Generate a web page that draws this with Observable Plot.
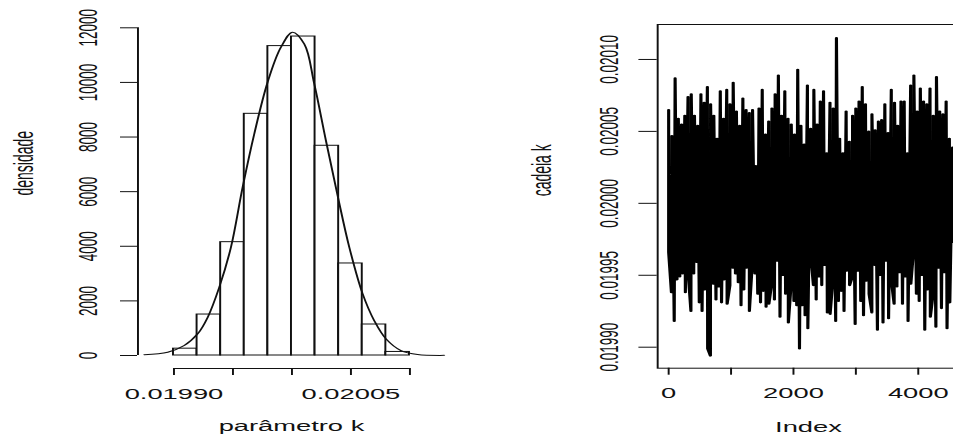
<!DOCTYPE html>
<html><head><meta charset="utf-8">
<script src="https://cdn.jsdelivr.net/npm/d3@7"></script>
<script src="https://cdn.jsdelivr.net/npm/@observablehq/plot@0.6"></script>
<style>
html,body{margin:0;padding:0;background:#fff;overflow:hidden;}
#wrap{position:relative;width:953px;height:440px;overflow:hidden;background:#fff;}
#left{position:absolute;left:0;top:0;width:477px;height:440px;}
#right{position:absolute;left:477px;top:0;width:476px;height:440px;overflow:hidden;}
</style></head><body>
<div id="wrap"><div id="left"></div><div id="right"></div></div>
<script>
// ---------- data: histogram of parameter k ----------
const histBreaks = [0.01990,0.01992,0.01994,0.01996,0.01998,0.02000,0.02002,0.02004,0.02006,0.02008,0.02010];
const histDensity = [250,1500,4150,8850,11330,11680,7680,3370,1135,130];
const curveK = [0.0198748,0.0198947,0.0199087,0.0199201,0.0199286,0.0199384,0.0199483,0.0199582,0.0199681,0.0199794,0.0199907,0.0200006,0.0200104,0.0200189,0.0200288,0.0200387,0.0200486,0.0200599,0.0200697,0.0200797,0.0200924,0.0201065,0.0201291];
const curveDens = [30,120,366,794,1400,2500,3965,6160,8120,10010,11290,11840,11410,9950,7870,5860,3965,2260,1280,610,183,37,5];
const histYTicks = [0,2000,4000,6000,8000,10000,12000];
const histXTicks = [0.01990,0.01995,0.02000,0.02005,0.02010];
const histXTickLabels = ["0.01990","","","0.02005",""];

// ---------- data: trace (chain) of k ----------
const traceHigh = [0.020065,0.020047,0.020087,0.020059,0.020055,0.020061,0.020074,0.020076,0.020061,0.020054,
0.020076,0.020070,0.020081,0.020069,0.020061,0.020045,0.020078,0.020059,0.020079,0.020069,
0.020084,0.020064,0.020054,0.020073,0.020065,0.020063,0.020065,0.020026,0.020066,0.020079,
0.020048,0.020057,0.020066,0.020076,0.020089,0.020061,0.020078,0.020059,0.020055,0.020048,
0.020093,0.020054,0.020041,0.020082,0.020052,0.020079,0.020055,0.020071,0.020078,0.020035,
0.020070,0.020066,0.020115,0.020045,0.020035,0.020064,0.020043,0.020061,0.020066,0.020071,
0.020081,0.020069,0.020050,0.020062,0.020051,0.020057,0.020058,0.020069,0.020049,0.020079,
0.020070,0.020054,0.020071,0.020071,0.020035,0.020082,0.020089,0.020064,0.020080,0.020071,
0.020069,0.020080,0.020061,0.020088,0.020064,0.020062,0.020071,0.020045,0.020039];
const traceLow = [0.019966,0.019938,0.019918,0.019947,0.019949,0.019951,0.019938,0.019952,0.019925,0.019951,
0.019959,0.019931,0.019925,0.019940,0.019899,0.019894,0.019944,0.019933,0.019942,0.019931,
0.019947,0.019930,0.019943,0.019955,0.019951,0.019945,0.019929,0.019940,0.019955,0.019925,
0.019957,0.019951,0.019937,0.019931,0.019939,0.019928,0.019930,0.019944,0.019933,0.019960,
0.019921,0.019950,0.019937,0.019917,0.019944,0.019932,0.019929,0.019899,0.019929,0.019922,
0.019913,0.019965,0.019943,0.019933,0.019949,0.019943,0.019957,0.019924,0.019923,0.019947,
0.019918,0.019932,0.019939,0.019925,0.019953,0.019943,0.019949,0.019916,0.019953,0.019932,
0.019922,0.019946,0.019937,0.019924,0.019957,0.019912,0.019950,0.019917,0.019960,0.019920,
0.019946,0.019930,0.019942,0.019952,0.019930,0.019949,0.019918,0.019944,0.019968,0.019937,
0.019932,0.019950,0.019912,0.019940,0.019921,0.019937,0.019914,0.019955,0.019927,0.019952,
0.019913,0.019931,0.019973];
const traceLength = 4550;
const traceXTicks = [0,1000,2000,3000,4000];
const traceXTickLabels = ["0","","2000","","4000"];
const traceYTicks = [0.01990,0.01995,0.02000,0.02005,0.02010];
const traceYTickLabels = ["0.01990","0.01995","0.02000","0.02005","0.02010"];

// ---------- layout ----------
const SX = 1.95;           // horizontal stretch of the original picture
const FONT = "'Liberation Sans', Arial, Helvetica, sans-serif";
const INK = "#111";

const bins = histBreaks.slice(0, -1).map((b, i) => ({x1: b, x2: histBreaks[i + 1], y: histDensity[i]}));
const curve = curveK.map((k, i) => ({k, d: curveDens[i]}));
const trace = [
  ...traceHigh.map((v, i) => ({i: i / (traceHigh.length - 1) * traceLength, v, o: 0})),
  ...traceLow.map((v, j) => ({i: j / (traceLow.length - 1) * traceLength, v, o: 1}))
].sort((a, b) => a.i - b.i || a.o - b.o);

function stretch(svg, w) {
  svg.setAttribute("preserveAspectRatio", "none");
  svg.setAttribute("width", w);
  svg.setAttribute("height", 440);
  svg.style.width = w + "px";
  svg.style.height = "440px";
  svg.style.maxWidth = "none";
  svg.style.overflow = "hidden";
  return svg;
}

const xDomL = [0.0198695, 0.0201297];
const yDomL = [-476, 12194];
const left = Plot.plot({
  width: 477 / SX, height: 440,
  marginLeft: 137 / SX, marginRight: 33 / SX, marginTop: 22, marginBottom: 72,
  x: {domain: xDomL, axis: null},
  y: {domain: yDomL, axis: null},
  style: {fontFamily: FONT, fontSize: "14px", color: INK, background: "white"},
  marks: [
    Plot.rect(bins, {x1: "x1", x2: "x2", y1: 0, y2: "y", fill: "white", stroke: INK, strokeWidth: 1}),
    Plot.line(curve, {x: "k", y: "d", curve: "catmull-rom", stroke: INK, strokeWidth: 1}),
    Plot.ruleX([xDomL[0]], {y1: histYTicks[0], y2: histYTicks[histYTicks.length - 1], stroke: INK}),
    Plot.axisY({ticks: histYTicks, tickSize: 17 / SX, fill: "none", stroke: INK, label: null}),
    Plot.text(histYTicks, {x: () => xDomL[0], y: d => d, text: d => String(d), rotate: -90, dx: -49 / SX, fontSize: 13.5, fill: INK}),
    Plot.ruleY([yDomL[0]], {x1: histXTicks[0], x2: histXTicks[histXTicks.length - 1], stroke: INK}),
    Plot.axisX({ticks: histXTicks, tickSize: 7, tickPadding: 14, stroke: INK, fill: INK, fontSize: 14, label: null,
      tickFormat: d => histXTickLabels[histXTicks.indexOf(d)]}),
    Plot.text(["parâmetro k"], {frameAnchor: "bottom", lineAnchor: "bottom", dy: 62.5, fontSize: 14, fill: INK}),
    Plot.text(["densidade"], {frameAnchor: "left", rotate: -90, dx: -114 / SX, fontSize: 14, fill: INK})
  ]
});
document.getElementById("left").appendChild(stretch(left, 477));

const xDomR = [-176, 4657];
const yDomR = [0.0198854, 0.0201243];
const right = Plot.plot({
  width: 520 / SX, height: 440,
  marginLeft: 179.7 / SX, marginRight: 38.7 / SX, marginTop: 24, marginBottom: 72.3,
  x: {domain: xDomR, axis: null},
  y: {domain: yDomR, axis: null},
  style: {fontFamily: FONT, fontSize: "14px", color: INK, background: "white"},
  marks: [
    Plot.line(trace, {x: "i", y: "v", stroke: "#000", strokeWidth: 1.6, strokeLinejoin: "round"}),
    Plot.frame({stroke: INK}),
    Plot.axisY({ticks: traceYTicks, tickSize: 18.3 / SX, fill: "none", stroke: INK, label: null}),
    Plot.text(traceYTicks, {x: () => xDomR[0], y: d => d, text: d => traceYTickLabels[traceYTicks.indexOf(d)], rotate: -90, dx: -47.7 / SX, fontSize: 13.5, fill: INK}),
    Plot.axisX({ticks: traceXTicks, tickSize: 7, tickPadding: 13, stroke: INK, fill: INK, fontSize: 14, label: null,
      tickFormat: d => traceXTickLabels[traceXTicks.indexOf(d)]}),
    Plot.text(["Index"], {frameAnchor: "bottom", lineAnchor: "bottom", dy: 64, fontSize: 14, fill: INK}),
    Plot.text(["cadeia k"], {frameAnchor: "left", rotate: -90, dx: -115.7 / SX, fontSize: 14, fill: INK})
  ]
});
document.getElementById("right").appendChild(stretch(right, 520));
</script>
</body></html>
